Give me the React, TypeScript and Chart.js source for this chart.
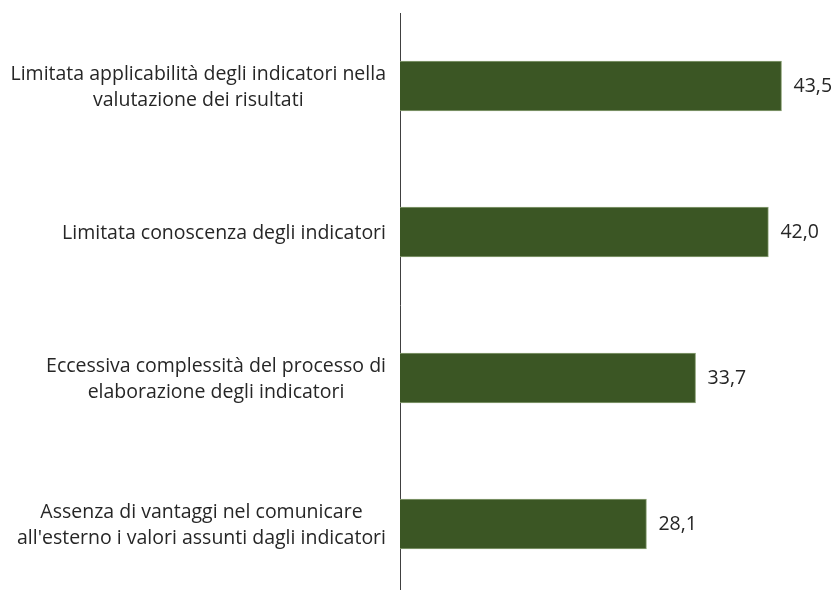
import React, { useEffect, useRef } from "react";
import { Chart, registerables } from "chart.js";

Chart.register(...registerables);

const categories: string[][] = [
  ["Limitata applicabilità degli indicatori nella", "valutazione dei risultati"],
  ["Limitata conoscenza degli indicatori"],
  ["Eccessiva complessità del processo di", "elaborazione degli indicatori"],
  ["Assenza di vantaggi nel comunicare", "all'esterno i valori assunti dagli indicatori"],
];
const values: number[] = [43.5, 42.0, 33.7, 28.1];
const valueLabels: string[] = ["43,5", "42,0", "33,7", "28,1"];

const FONT = "19.5px 'Open Sans', sans-serif";
const TEXT_COLOR = "#262626";
const LINE_H = 26;

const labelsPlugin = {
  id: "customLabels",
  afterDraw(chart: any) {
    const ctx = chart.ctx as CanvasRenderingContext2D;
    const yScale = chart.scales.y;
    const left = chart.chartArea.left;
    ctx.save();
    ctx.font = FONT;
    ctx.fillStyle = TEXT_COLOR;
    ctx.textBaseline = "middle";
    categories.forEach((lines, i) => {
      const cy = yScale.getPixelForValue(i);
      const maxW = Math.max(...lines.map((l) => ctx.measureText(l).width));
      const center = left - 14 - maxW / 2;
      ctx.textAlign = "center";
      lines.forEach((l, j) => {
        ctx.fillText(l, center, cy + 1 + (j - (lines.length - 1) / 2) * LINE_H);
      });
    });
    const meta = chart.getDatasetMeta(0);
    ctx.textAlign = "left";
    meta.data.forEach((bar: any, i: number) => {
      ctx.fillText(valueLabels[i], bar.x + 12, bar.y);
    });
    ctx.restore();
  },
};

export default function App() {
  const ref = useRef<HTMLCanvasElement>(null);
  useEffect(() => {
    if (!ref.current) return;
    const chart = new Chart(ref.current, {
      type: "bar",
      data: {
        labels: categories.map((l) => l.join(" ")),
        datasets: [
          {
            data: values,
            backgroundColor: "#3B5624",
            borderColor: "#8CA277",
            borderWidth: 1,
            barThickness: 50,
          },
        ],
      },
      options: {
        indexAxis: "y",
        responsive: false,
        animation: false,
        layout: { padding: { top: 13, bottom: 3, right: 13, left: 0 } },
        plugins: { legend: { display: false }, tooltip: { enabled: false } },
        scales: {
          x: { display: false, min: 0, max: 48 },
          y: {
            type: "category",
            grid: { display: false, drawTicks: false },
            border: { display: true, color: "#404040", width: 1 },
            ticks: { display: false },
            afterFit(scale: any) {
              scale.width = 400;
            },
          },
        },
      },
      plugins: [labelsPlugin],
    });
    return () => chart.destroy();
  }, []);
  return (
    <div style={{ position: "fixed", left: 0, top: 0, width: 834, height: 600, overflow: "hidden", background: "#fff" }}>
      <canvas ref={ref} width={834} height={600} style={{ display: "block", width: 834, height: 600 }} />
    </div>
  );
}
